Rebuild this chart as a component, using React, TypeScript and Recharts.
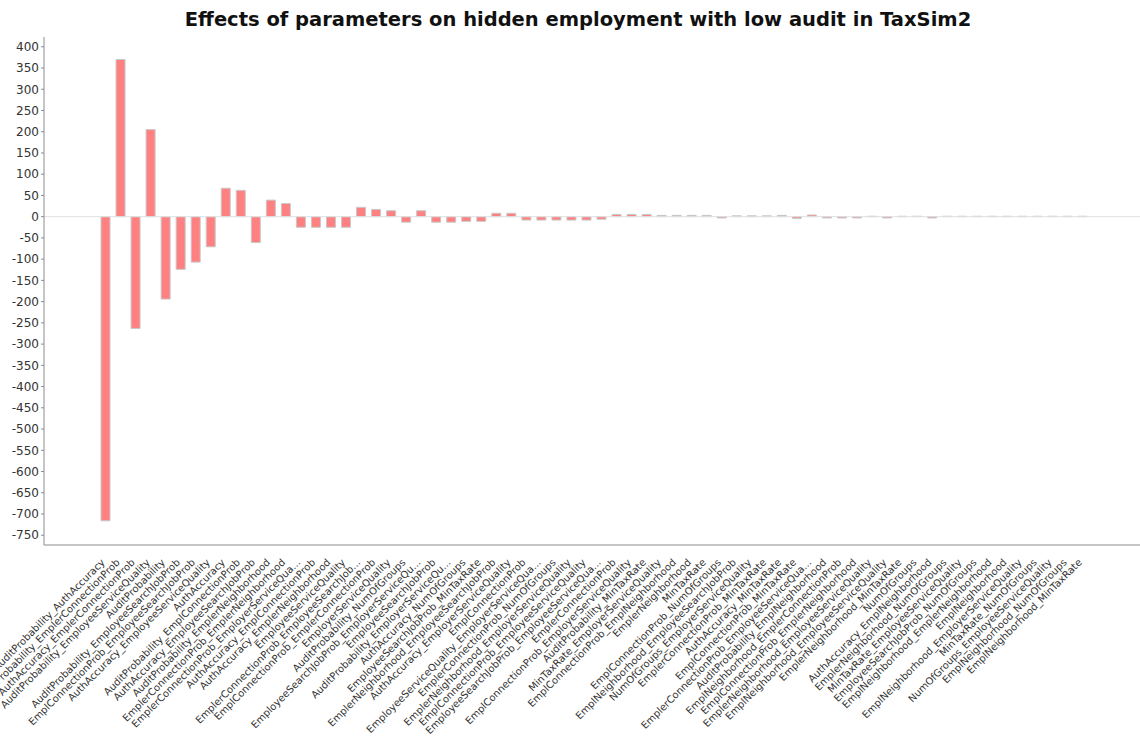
// Effects chart — bar per factor / factor pair, TaxSim2 low-audit run.
import React from 'react';
import { BarChart, Bar, XAxis, YAxis, ReferenceLine } from 'recharts';

const factorNames = [
  'AuditProbability_AuthAccuracy',
  'AuditProbability_EmplerConnectionProb',
  'AuthAccuracy_EmplerConnectionProb',
  'AuditProbability_EmployeeServiceQuality',
  'AuditProbability',
  'AuditProbability_EmployeeSearchJobProb',
  'EmplConnectionProb_EmployeeSearchJobProb',
  'AuthAccuracy_EmployeeServiceQuality',
  'AuthAccuracy',
  'AuditProbability_EmplConnectionProb',
  'AuthAccuracy_EmployeeSearchJobProb',
  'AuditProbability_EmplerNeighborhood',
  'EmplerConnectionProb_EmplerNeighborhood',
  'EmplerConnectionProb_EmployerServiceQua...',
  'AuthAccuracy_EmplConnectionProb',
  'AuthAccuracy_EmplerNeighborhood',
  'EmployeeServiceQuality',
  'EmplerConnectionProb_EmployeeSearchJob...',
  'EmplConnectionProb_EmplerConnectionProb',
  'EmployerServiceQuality',
  'AuditProbability_NumOfGroups',
  'EmployeeSearchJobProb_EmployerServiceQu...',
  'EmployeeSearchJobProb',
  'AuditProbability_EmployerServiceQu...',
  'AuthAccuracy_NumOfGroups',
  'EmployeeSearchJobProb_MinTaxRate',
  'EmplerNeighborhood_EmployeeSearchJobProb',
  'AuthAccuracy_EmployerServiceQuality',
  'EmplConnectionProb',
  'EmployeeServiceQuality_EmployerServiceQua...',
  'EmplerConnectionProb_NumOfGroups',
  'EmplerNeighborhood_EmployerServiceQuality',
  'EmplConnectionProb_EmployeeServiceQuality',
  'EmployeeSearchJobProb_EmployeeServiceQua...',
  'EmplerConnectionProb',
  'EmplConnectionProb_EmployerServiceQuality',
  'AuditProbability_MinTaxRate',
  'MinTaxRate_EmployerServiceQuality',
  'EmplConnectionProb_EmplNeighborhood',
  'EmplerNeighborhood',
  'MinTaxRate',
  'EmplConnectionProb_NumOfGroups',
  'EmplNeighborhood_EmployeeSearchJobProb',
  'NumOfGroups_EmployerServiceQuality',
  'EmplerConnectionProb_MinTaxRate',
  'AuthAccuracy_MinTaxRate',
  'EmplConnectionProb_MinTaxRate',
  'EmplerConnectionProb_EmployeeServiceQua...',
  'AuditProbability_EmplNeighborhood',
  'EmplNeighborhood_EmplerConnectionProb',
  'EmplConnectionProb_EmplerNeighborhood',
  'EmplerNeighborhood_EmployeeServiceQuality',
  'EmplNeighborhood_EmployeeServiceQuality',
  'EmplerNeighborhood_MinTaxRate',
  'NumOfGroups',
  'AuthAccuracy_EmplNeighborhood',
  'EmplerNeighborhood_NumOfGroups',
  'MinTaxRate_EmployeeServiceQuality',
  'EmployeeSearchJobProb_NumOfGroups',
  'EmplNeighborhood_EmplerNeighborhood',
  'EmplNeighborhood',
  'EmplNeighborhood_EmployerServiceQuality',
  'MinTaxRate_NumOfGroups',
  'NumOfGroups_EmployeeServiceQuality',
  'EmplNeighborhood_NumOfGroups',
  'EmplNeighborhood_MinTaxRate',
];

const effectValues = [
  -716, 370, -263, 205, -194, -124, -107, -71, 67, 62,
  -61, 39, 31, -25, -25, -25, -25, 22, 17, 14,
  -13, 14, -13, -13, -11, -11, 8, 8, -8, -8,
  -8, -8, -8, -6, 5, 5, 5, 3, 3, 3,
  3, -3, 2, 2, 2, 3, -4, 4, -3, -3,
  -3, 1, -3, 1, 1, -3, 1, 1, 1, 1,
  1, 1, 1, 1, 1, 1,
];

const yTicks = [
  400, 350, 300, 250, 200, 150, 100, 50, 0, -50, -100, -150,
  -200, -250, -300, -350, -400, -450, -500, -550, -600, -650, -700, -750,
];

const chartTitle = 'Effects of parameters on hidden employment with low audit in TaxSim2';

const rows = factorNames.map((name, i) => ({ name, effect: effectValues[i] }));

const FONT = '"DejaVu Sans", sans-serif';

// rotated category label, right end sits under the bar
function FactorTick({ x, y, payload }: { x?: number; y?: number; payload?: { value: string } }) {
  const ty = (y ?? 0) + 10;
  return (
    <text
      x={x}
      y={ty}
      transform={`rotate(-45, ${x}, ${ty})`}
      textAnchor="end"
      fontSize={10}
      fontFamily={FONT}
      fill="#333"
    >
      {payload?.value}
    </text>
  );
}

export default function App() {
  return (
    <div style={{ position: 'absolute', left: 0, top: 0, width: 1140, height: 736, background: '#fff' }}>
      <div
        style={{
          position: 'absolute', top: 7, left: 0, width: 1156, textAlign: 'center',
          fontFamily: FONT, fontWeight: 'bold', fontSize: 19.5, lineHeight: '26px', color: '#111',
        }}
      >
        {chartTitle}
      </div>
      <BarChart
        width={1140}
        height={736}
        data={rows}
        margin={{ top: 37, right: 0, bottom: 0, left: 0 }}
        barCategoryGap="20%"
      >
        <XAxis
          dataKey="name"
          interval={0}
          height={191}
          padding={{ left: 54, right: 50 }}
          tick={<FactorTick />}
          tickLine={false}
          axisLine={{ stroke: '#8c8c8c' }}
        />
        <YAxis
          width={44}
          domain={[-773, 423]}
          ticks={yTicks}
          allowDataOverflow
          tickSize={3}
          tickLine={{ stroke: '#8c8c8c' }}
          axisLine={{ stroke: '#8c8c8c' }}
          tick={{ fontSize: 12, fontFamily: FONT, fill: '#333' }}
        />
        <ReferenceLine y={0} stroke="#e0e0e0" />
        <Bar
          dataKey="effect"
          fill="#ff8080"
          stroke="#c8c8c8"
          strokeWidth={1}
          isAnimationActive={false}
        />
      </BarChart>
    </div>
  );
}
